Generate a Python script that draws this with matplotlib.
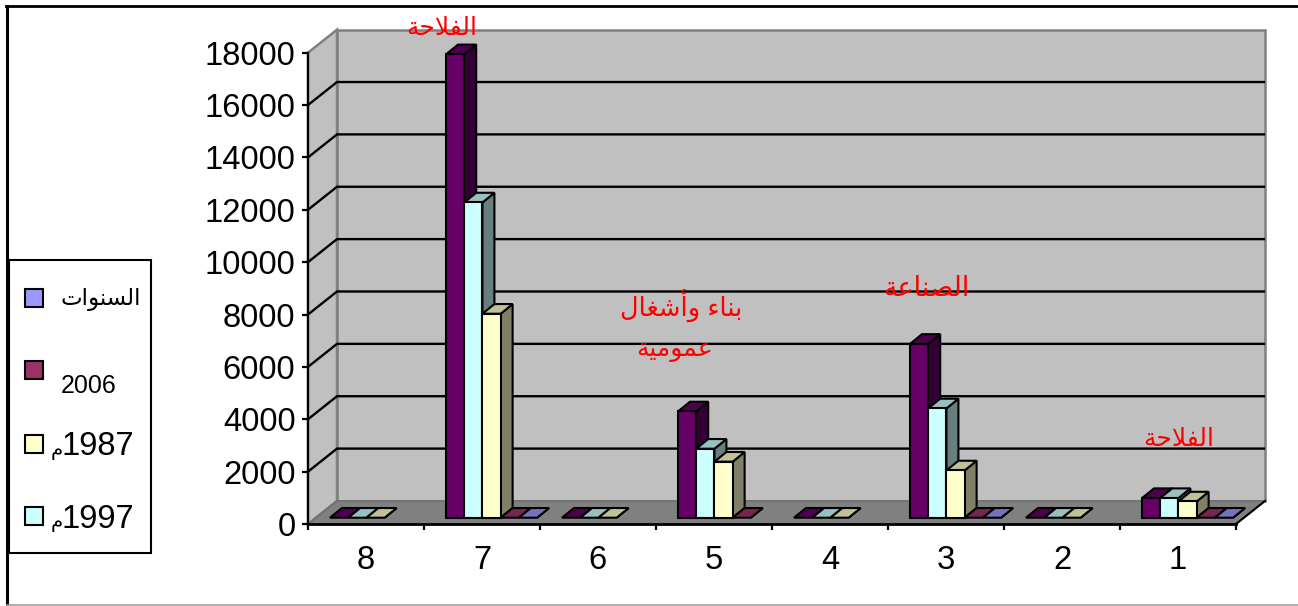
import matplotlib
matplotlib.use('Agg')
import matplotlib.pyplot as plt
from matplotlib.patches import Polygon, Rectangle

W, H = 1298, 606
FONT = ['Liberation Sans', 'DejaVu Sans']
plt.rcParams['font.family'] = FONT

categories = ['8', '7', '6', '5', '4', '3', '2', '1']
yticks = list(range(0, 18001, 2000))

# None means the cell is empty, so no bar at all
purple_vals = [0, 17700, 0, 4060, 0, 6640, 0, 750]
cyan_vals = [0, 12040, 0, 2635, 0, 4175, 0, 750]
yellow_vals = [0, 7790, 0, 2140, 0, 1806, 0, 620]
maroon_vals = [None, 0, None, 0, None, 0, None, 0]
blue_vals = [None, 0, None, None, None, 0, None, 0]

# front, top and side shades of each series
series = [
    (purple_vals, '#660066', '#4d004d', '#330033'),
    (cyan_vals, '#ccffff', '#99c0c0', '#668080'),
    (yellow_vals, '#ffffcc', '#c0c099', '#808066'),
    (maroon_vals, '#993366', '#732650', '#4d1a33'),
    (blue_vals, '#9999ff', '#7373c0', '#4d4d80'),
]

# Arabic needs shaping by hand, matplotlib lays text out left to right
FORMS = {
    'ء': (0xFE80,), 'ا': (0xFE8D, 0xFE8E), 'أ': (0xFE83, 0xFE84),
    'ة': (0xFE93, 0xFE94), 'و': (0xFEED, 0xFEEE),
    'ب': (0xFE8F, 0xFE90, 0xFE91, 0xFE92), 'ت': (0xFE95, 0xFE96, 0xFE97, 0xFE98),
    'ح': (0xFEA1, 0xFEA2, 0xFEA3, 0xFEA4), 'س': (0xFEB1, 0xFEB2, 0xFEB3, 0xFEB4),
    'ش': (0xFEB5, 0xFEB6, 0xFEB7, 0xFEB8), 'ص': (0xFEB9, 0xFEBA, 0xFEBB, 0xFEBC),
    'ع': (0xFEC9, 0xFECA, 0xFECB, 0xFECC), 'غ': (0xFECD, 0xFECE, 0xFECF, 0xFED0),
    'ف': (0xFED1, 0xFED2, 0xFED3, 0xFED4), 'ل': (0xFEDD, 0xFEDE, 0xFEDF, 0xFEE0),
    'م': (0xFEE1, 0xFEE2, 0xFEE3, 0xFEE4), 'ن': (0xFEE5, 0xFEE6, 0xFEE7, 0xFEE8),
    'ي': (0xFEF1, 0xFEF2, 0xFEF3, 0xFEF4),
}


def shape(text):
    out = []
    joined = False
    i = 0
    while i < len(text):
        c = text[i]
        nxt = text[i + 1] if i + 1 < len(text) else ''
        if c not in FORMS:
            out.append(c)
            joined = False
        elif c == 'ل' and nxt == 'ا':
            out.append(chr(0xFEFC if joined else 0xFEFB))
            joined = False
            i += 1
        else:
            forms = FORMS[c]
            fwd = len(forms) == 4 and nxt in FORMS and nxt != 'ء'
            if len(forms) == 1:
                out.append(chr(forms[0]))
            elif len(forms) == 2:
                out.append(chr(forms[1 if joined else 0]))
            elif fwd:
                out.append(chr(forms[3 if joined else 2]))
            else:
                out.append(chr(forms[1 if joined else 0]))
            joined = fwd
        i += 1
    return ''.join(reversed(out))


fig = plt.figure(figsize=(W / 100, H / 100), dpi=100, facecolor='white')
ax = fig.add_axes([308 / W, (H - 524) / H, 928 / W, 471.3 / H])
ax.set_xlim(0, 8)
ax.set_ylim(0, 18000)
ax.patch.set_visible(False)

# depth of the box behind the front plane, in axis units
depth_x = 0.25
depth_y = 880
n = len(categories)
ymax = yticks[-1]

# back wall, side wall and floor
ax.add_patch(Polygon([(depth_x, depth_y), (n + depth_x, depth_y),
                      (n + depth_x, ymax + depth_y), (depth_x, ymax + depth_y)],
                     fc='#c0c0c0', ec='#808080', lw=1.8, clip_on=False, zorder=1))
ax.add_patch(Polygon([(0, 0), (depth_x, depth_y), (depth_x, ymax + depth_y), (0, ymax)],
                     fc='#c0c0c0', ec='#808080', lw=1.8, clip_on=False, zorder=1))
ax.add_patch(Polygon([(0, 0), (n, 0), (n + depth_x, depth_y), (depth_x, depth_y)],
                     fc='#808080', ec='#707070', lw=1.2, clip_on=False, zorder=1.5))
ax.plot([n, n + depth_x], [0, depth_y], color='black', lw=1.5, clip_on=False, zorder=2)

# gridlines run along the side wall then across the back
for t in yticks[1:-1]:
    ax.plot([0, depth_x, n + depth_x - 0.01], [t, t + depth_y, t + depth_y],
            color='black', lw=1.7, clip_on=False, zorder=2, solid_joinstyle='miter')

# bars
bar_w = 0.157
gap = 0.19
box_x = 0.103
box_y = 370
lift = 240
edge_w = 1.5
for k, (vals, front, top, side) in enumerate(series):
    z = 3 + k
    for i, v in enumerate(vals):
        if v is None:
            continue
        x0 = i + gap + k * bar_w
        x1 = x0 + bar_w
        y0 = lift
        y1 = lift + v
        ax.add_patch(Polygon([(x1, y0), (x1 + box_x, y0 + box_y),
                              (x1 + box_x, y1 + box_y), (x1, y1)],
                             fc=side, ec='black', lw=edge_w, zorder=z, clip_on=False))
        ax.add_patch(Polygon([(x0, y1), (x1, y1), (x1 + box_x, y1 + box_y), (x0 + box_x, y1 + box_y)],
                             fc=top, ec='black', lw=edge_w, zorder=z, clip_on=False))
        if v > 0:
            ax.bar(x0, v, width=bar_w, bottom=lift, align='edge', color=front,
                   edgecolor='black', linewidth=edge_w, zorder=z, clip_on=False)

# axes
for s in ('top', 'right'):
    ax.spines[s].set_visible(False)
ax.spines['left'].set_linewidth(1.6)
ax.spines['bottom'].set_linewidth(2)
ax.spines['left'].set_zorder(9)
ax.spines['bottom'].set_zorder(9)
ax.set_yticks(yticks)
ax.set_yticklabels([str(t) for t in yticks])
ax.tick_params(axis='y', length=4.5, width=1.6, labelsize=23.6, pad=4.5)
ax.set_xticks(range(n + 1))
ax.set_xticklabels([])
ax.set_xticks([i + 0.5 for i in range(n)], minor=True)
ax.set_xticklabels(categories, minor=True)
ax.tick_params(axis='x', which='major', length=4.5, width=1.6)
ax.tick_params(axis='x', which='minor', length=0, labelsize=23.6, pad=15)

# overlay in figure pixels for the outer frame, legend box and notes
ov = fig.add_axes([0, 0, 1, 1], zorder=10)
ov.set_xlim(0, W)
ov.set_ylim(H, 0)
ov.axis('off')

ov.plot([6, W], [6, 6], color='black', lw=2)
ov.plot([6.5, 6.5], [6, H], color='black', lw=2.2)
ov.plot([6.5, W], [605, 605], color='#a0a0a0', lw=1.2)

ov.add_patch(Rectangle((8.5, 259.5), 142, 293, fc='white', ec='black', lw=1.5))

# legend keys and their labels
legend_keys = [(298, '#9999ff'), (370, '#993366'), (444, '#ffffcc'), (516, '#ccffff')]
for y, color in legend_keys:
    ov.add_patch(Rectangle((24.5, y - 9), 18, 18, fc=color, ec='black', lw=1.5))

ov.text(141, 305, shape('السنوات'), ha='right', va='baseline', fontsize=16.5)
ov.text(116, 393, '2006', ha='right', va='baseline', fontsize=18)
for label, base in (('1987', 455), ('1997', 527.5)):
    ov.text(134, base, label, ha='right', va='baseline', fontsize=23.6)
    ov.text(63, base, shape('م'), ha='right', va='baseline', fontsize=14)

notes = [
    (442, 28, 'الفلاحة', 18),
    (1179, 439, 'الفلاحة', 18),
    (926, 289, 'الصناعة', 19.5),
    (681, 306, 'بناء وأشغال', 18.5),
    (675, 350, 'عمومية', 18),
]
for x, y, label, size in notes:
    ov.text(x, y, shape(label), ha='center', va='center', fontsize=size, color='red')

fig.savefig('out.png', dpi=100)
